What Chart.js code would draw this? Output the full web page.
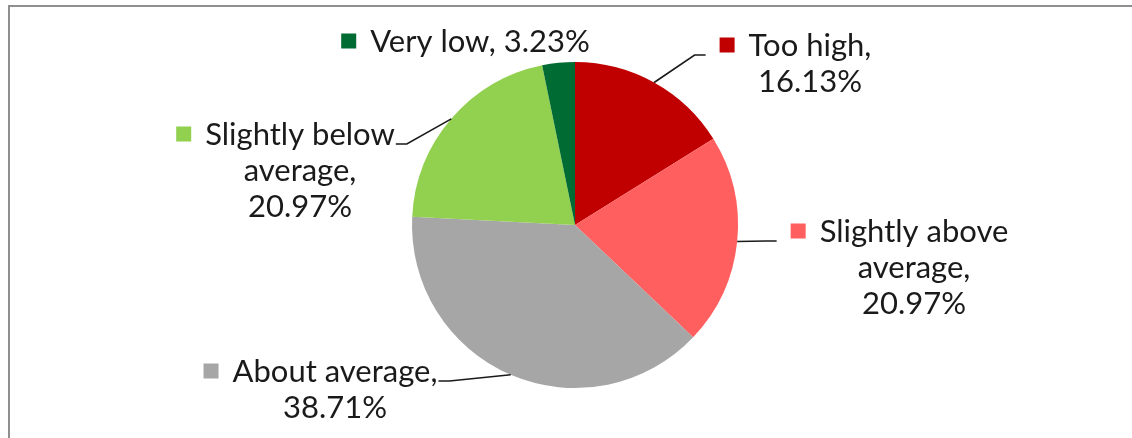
<!DOCTYPE html>
<html>
<head>
<meta charset="utf-8">
<script src="https://cdn.jsdelivr.net/npm/chart.js@4"></script>
<style>
  html, body { margin: 0; padding: 0; background: #fff; }
  canvas { display: block; }
</style>
</head>
<body>
<canvas id="pie" width="1132" height="438"></canvas>
<script>
// Slices, clockwise from 12 o'clock
const categories = ['Too high', 'Slightly above average', 'About average', 'Slightly below average', 'Very low'];
const percents   = [16.13, 20.97, 38.71, 20.97, 3.23];
const colors     = ['#C00000', '#FF5F5F', '#A6A6A6', '#92D050', '#006B33'];

// How each data label wraps; {v} is replaced by the slice value
const labelTemplates = [
  'Too high,\n{v}',
  'Slightly above\naverage,\n{v}',
  'About average,\n{v}',
  'Slightly below\naverage,\n{v}',
  'Very low, {v}'
];

// Label placement: centre x of the text block, baseline of its first line,
// and which side the leader line approaches from (null = no leader)
const labelLayout = [
  { cx: 810, y: 56,  leader: 'left'  },
  { cx: 914, y: 242, leader: 'left'  },
  { cx: 335, y: 382, leader: 'right' },
  { cx: 300, y: 145, leader: 'right' },
  { cx: 480, y: 52,  leader: null    }
];

const FONT_SIZE = 31;
const LINE_H = 36;
const FONT = FONT_SIZE + 'px Lato, "Open Sans", sans-serif';
const KEY = 15, KEY_GAP = 14, LEADER_GAP = 14, ELBOW = 11;

const framePlugin = {
  id: 'frame',
  beforeDraw(chart) {
    const c = chart.ctx;
    c.save();
    c.fillStyle = '#ffffff';
    c.fillRect(0, 0, chart.width, chart.height);
    c.strokeStyle = '#8f8f8f';
    c.lineWidth = 2;
    c.strokeRect(9, 6, chart.width + 20, chart.height + 20);
    c.restore();
  }
};

const labelPlugin = {
  id: 'sliceLabels',
  afterDatasetsDraw(chart) {
    const c = chart.ctx;
    const meta = chart.getDatasetMeta(0);
    c.save();
    c.font = FONT;
    c.textBaseline = 'alphabetic';
    meta.data.forEach((arc, i) => {
      const lay = labelLayout[i];
      const text = labelTemplates[i].replace('{v}', percents[i].toFixed(2) + '%');
      const lines = text.split('\n');
      const w0 = c.measureText(lines[0]).width;
      const textLeft = lay.cx - w0 / 2;
      const textRight = lay.cx + w0 / 2;
      const keyLeft = textLeft - KEY_GAP - KEY;

      // leader line from the slice's mid-angle on the rim
      if (lay.leader) {
        const p = arc.getProps(['x', 'y', 'startAngle', 'endAngle', 'outerRadius'], true);
        const mid = (p.startAngle + p.endAngle) / 2;
        const ax = p.x + Math.cos(mid) * p.outerRadius;
        const ay = p.y + Math.sin(mid) * p.outerRadius;
        const ly = lay.y - 1;
        let ex, elbowX;
        if (lay.leader === 'left') { ex = keyLeft - LEADER_GAP; elbowX = ex - ELBOW; }
        else { ex = textRight + 1; elbowX = ex + ELBOW; }
        c.strokeStyle = '#1a1a1a';
        c.lineWidth = 1.6;
        c.beginPath();
        c.moveTo(ax, ay);
        c.lineTo(elbowX, ly);
        c.lineTo(ex, ly);
        c.stroke();
      }

      // legend key
      c.fillStyle = colors[i];
      c.fillRect(keyLeft, lay.y - 11 - KEY / 2, KEY, KEY);

      // text lines
      c.fillStyle = '#1a1a1a';
      c.textAlign = 'center';
      lines.forEach((ln, k) => c.fillText(ln, lay.cx, lay.y + k * LINE_H));
    });
    c.restore();
  }
};

new Chart(document.getElementById('pie'), {
  type: 'pie',
  data: {
    labels: categories,
    datasets: [{
      data: percents,
      backgroundColor: colors,
      borderWidth: 0,
      hoverOffset: 0
    }]
  },
  options: {
    responsive: false,
    animation: false,
    layout: { padding: { left: 412, right: 394, top: 62, bottom: 50 } },
    plugins: {
      legend: { display: false },
      tooltip: { enabled: false }
    }
  },
  plugins: [framePlugin, labelPlugin]
});
</script>
</body>
</html>
